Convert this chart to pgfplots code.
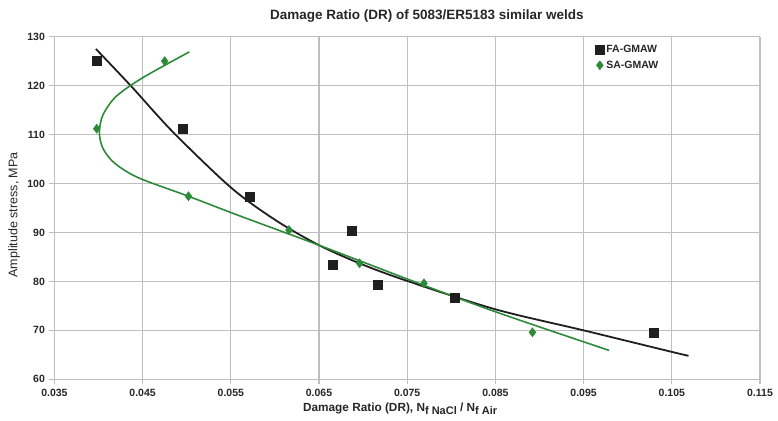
\documentclass[border=0pt]{standalone}
\usepackage{fontspec}
\setmainfont{Liberation Sans}
\usepackage{pgfplots}
\pgfplotsset{compat=1.18}
\definecolor{sagreen}{RGB}{44,138,56}
\definecolor{fablack}{RGB}{32,30,30}
\definecolor{gridgray}{RGB}{190,190,190}
\begin{document}
\begin{tikzpicture}[x=1pt,y=1pt]
\useasboundingbox (0,0) rectangle (778,420);
\begin{axis}[
  scale only axis, width=705.6pt, height=342.6pt,
  at={(54.4pt,40.7pt)}, anchor=south west,
  xmin=0.035, xmax=0.115, ymin=60, ymax=130,
  xtick={0.035,0.045,0.055,0.065,0.075,0.085,0.095,0.105,0.115},
  xticklabels={0.035,0.045,0.055,0.065,0.075,0.085,0.095,0.105,0.115},
  ytick={60,70,80,90,100,110,120,130},
  yticklabels={60,70,80,90,100,110,120,130},
  grid=major, major grid style={gridgray, line width=1.2pt},
  axis x line*=bottom, axis y line*=left,
  axis line style={gridgray, line width=1.2pt, -},
  tick align=outside, major tick length=5pt,
  tick style={gridgray, line width=1.2pt},
  ticklabel style={font=\bfseries\fontsize{10.5}{12}\selectfont, text=black!85},
  xticklabel style={yshift=-1pt},
  yticklabel style={xshift=-1pt},
  xlabel={Damage Ratio (DR), N\raisebox{-0.45ex}{\fontsize{11}{12}\selectfont f NaCl} / N\raisebox{-0.45ex}{\fontsize{11}{12}\selectfont f Air}},
  xlabel style={font=\bfseries\fontsize{11.8}{13}\selectfont, text=black!85, at={(axis description cs:0.49,-0.095)}, anchor=base},
  ylabel={Amplitude stress, MPa},
  ylabel style={font=\fontsize{12.5}{14}\selectfont, text=black!85, at={(axis description cs:-0.057,0.48)}, anchor=center},
  title={Damage Ratio (DR) of 5083/ER5183 similar welds},
  title style={font=\bfseries\fontsize{13.5}{15}\selectfont, text=black!85, at={(axis description cs:0.528,1.033)}, anchor=base},
  legend style={at={(axis description cs:0.765,0.985)}, anchor=north west, draw=none, fill=none,
    font=\bfseries\fontsize{10.5}{12}\selectfont, text=black!85, row sep=3pt, inner sep=1pt},
  legend cell align=left,
  legend image code/.code={\draw[mark repeat=2,mark phase=2,#1] plot coordinates {(0pt,0pt)(4pt,0pt)(8pt,0pt)};},
  clip=false,
]
% trend lines
\addplot[fablack, line width=1.8pt, smooth, forget plot] coordinates {
 (0.0397,127.5) (0.0437,119.9) (0.0484,110.6) (0.0550,99.2) (0.0600,92.6)
 (0.0650,87.4) (0.0700,83.4) (0.0750,80.1) (0.0850,74.3) (0.0950,70.0)
 (0.1050,65.6) (0.1069,64.8)};
\addplot[sagreen, line width=1.6pt, smooth, forget plot] coordinates {
 (0.0503,126.9) (0.0450,121.6) (0.0420,117.8) (0.0405,114.0) (0.0401,110.4)
 (0.0405,107.2) (0.0418,104.2) (0.0445,101.2) (0.0502,97.4) (0.0560,93.4)
 (0.0650,87.4) (0.0750,80.5) (0.0850,73.8) (0.0979,65.9)};
% data
\addplot[only marks, mark=square*, mark size=4.5pt, color=fablack] coordinates {
 (0.0398,125.0) (0.0495,111.2) (0.0571,97.4) (0.0687,90.4) (0.0666,83.5)
 (0.0716,79.3) (0.0804,76.6) (0.1029,69.6)};
\addlegendentry{FA-GMAW}
\addplot[only marks, mark=diamond*, mark size=4.6pt, color=sagreen] coordinates {
 (0.0475,125.0) (0.0398,111.2) (0.0502,97.4) (0.0616,90.5) (0.0696,83.7)
 (0.0769,79.6) (0.0892,69.6)};
\addlegendentry{SA-GMAW}
\end{axis}
\end{tikzpicture}
\end{document}
